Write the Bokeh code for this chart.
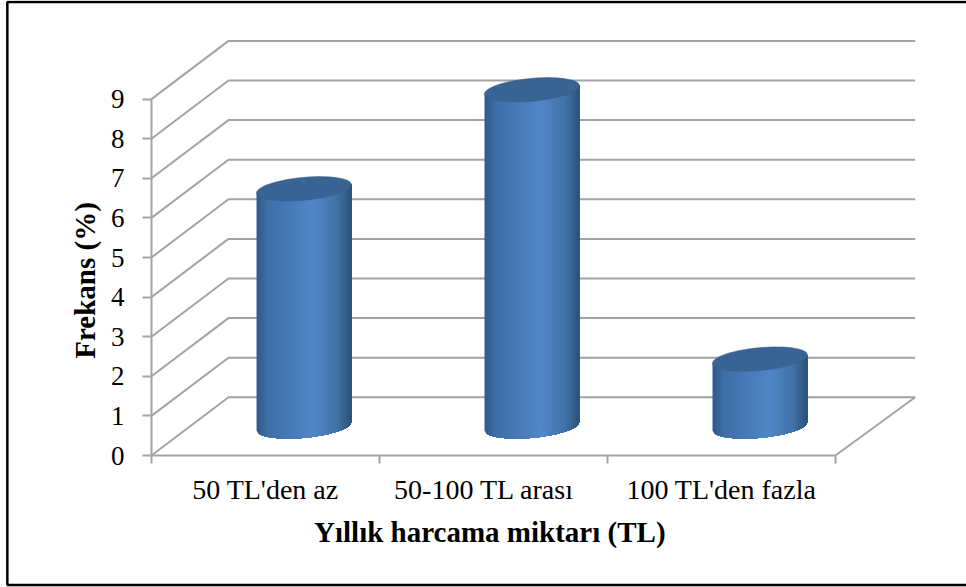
from bokeh.plotting import figure
from bokeh.embed import file_html
from bokeh.resources import INLINE
from bokeh.models import Range1d, FixedTicker, LinearAxis
from bokeh.core.properties import value
import numpy as np

categories = ["50 TL'den az", "50-100 TL arası", "100 TL'den fazla"]
values = [6.0, 8.5, 1.7]
y_ticks = list(range(10))
y_label = "Frekans (%)"
x_label = "Yıllık  harcama miktarı (TL)"

DEPTH_X = 0.338      # wall depth in category units
DEPTH_Y = 1.47       # wall depth in value units
TOP_X = 3 + DEPTH_X + 0.012
GRID = "#a3a3a3"
FONT = "Liberation Serif"
X0, X1 = -0.662, 3.575
Y0, Y1 = -3.333, 11.49

stops_t = [0.0, 0.12, 0.6, 0.85, 1.0]
stops_rgb = np.array([[46, 90, 136], [62, 112, 168], [81, 134, 200], [66, 114, 168], [44, 82, 120]])

p = figure(width=966, height=587, output_backend="svg", toolbar_location=None,
           x_range=Range1d(X0, X1), y_range=Range1d(Y0, Y1),
           x_axis_location=None, y_axis_location=None,
           min_border=0, min_border_left=0, min_border_right=0, min_border_top=0, min_border_bottom=0)
p.grid.visible = False
p.outline_line_color = None
p.background_fill_color = "white"

# chart border (its right side lies beyond the picture's edge, as in the reference)
p.quad(left=-0.632, right=3.62, bottom=-3.27, top=11.45,
       fill_color=None, line_color="black", line_width=2.5)

# walls and floor
for v in y_ticks:
    p.line([0, DEPTH_X, TOP_X], [v, v + DEPTH_Y, v + DEPTH_Y], line_color=GRID, line_width=2)
p.line([3, TOP_X], [0, DEPTH_Y], line_color=GRID, line_width=2)

# cylinders
HALF_W = 0.208
RY = 0.29
TILT = 0.105
for i, val in enumerate(values):
    cx = i + 0.5 + DEPTH_X / 2
    base = DEPTH_Y / 2
    top = base + val
    u = np.linspace(-1, 1, 61)
    ell = RY * np.sqrt(np.clip(1 - u ** 2, 0, 1))
    xs, ys, cols = [], [], []
    for k in range(len(u) - 1):
        t = (u[k] + u[k + 1] + 2) / 4
        rgb = [int(np.interp(t, stops_t, stops_rgb[:, c])) for c in range(3)]
        cols.append("#%02x%02x%02x" % tuple(rgb))
        xs.append(list(cx + HALF_W * u[k:]) + [cx + HALF_W, cx + HALF_W * u[k]])
        ys.append(list(base + TILT * u[k:] - ell[k:]) + [top + TILT, top + TILT * u[k]])
    p.patches(xs, ys, fill_color=cols, line_color=None)
    th = np.linspace(0, 2 * np.pi, 80)
    p.patch(cx + HALF_W * np.cos(th), top + TILT * np.cos(th) + RY * np.sin(th),
            fill_color="#386392", line_color="#386392", line_width=0.5)

# axes
label_pos = [0.5, 1.46, 2.5]
xa = LinearAxis(fixed_location=0)
xa.ticker = FixedTicker(ticks=label_pos, minor_ticks=[0, 1, 2, 3])
xa.major_label_overrides = dict(zip(label_pos, categories))
xa.bounds = (0, 3)
xa.major_tick_line_color = None
xa.minor_tick_in = 0
xa.minor_tick_out = 8
xa.minor_tick_line_color = GRID
xa.minor_tick_line_width = 2
xa.axis_line_color = GRID
xa.axis_line_width = 2
xa.major_label_text_font = FONT
xa.major_label_text_font_size = "28px"
xa.major_label_text_color = "black"
xa.major_label_standoff = 10
p.add_layout(xa, "below")

ya = LinearAxis(fixed_location=0)
ya.ticker = FixedTicker(ticks=y_ticks)
ya.bounds = (0, 9)
ya.major_tick_in = 0
ya.major_tick_out = 9
ya.minor_tick_line_color = None
ya.major_tick_line_color = GRID
ya.major_tick_line_width = 2
ya.axis_line_color = GRID
ya.axis_line_width = 2
ya.major_label_text_font = FONT
ya.major_label_text_font_size = "27px"
ya.major_label_text_color = "black"
ya.major_label_standoff = 18
p.add_layout(ya, "left")

p.text(x=[1.5], y=[-1.92], text=[x_label], text_font=value(FONT), text_font_size="29px",
       text_font_style="bold", text_color="black", text_align="center", text_baseline="middle")
p.text(x=[-0.29], y=[4.42], text=[y_label], angle=np.pi / 2, text_font=value(FONT), text_font_size="29px",
       text_font_style="bold", text_color="black", text_align="center", text_baseline="middle")

open("out.html", "w").write(file_html(p, INLINE))
